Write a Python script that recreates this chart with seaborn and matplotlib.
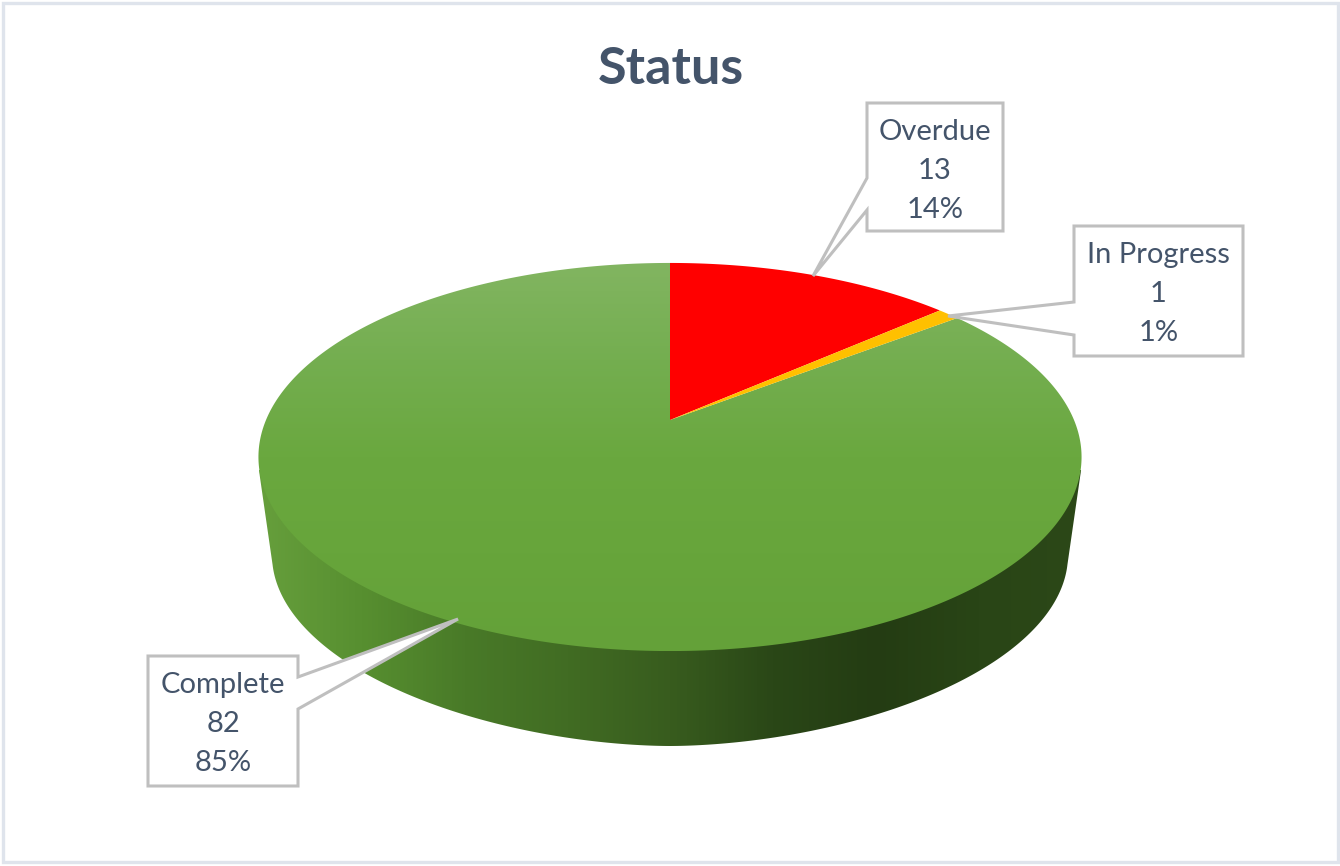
# -*- coding: utf-8 -*-
"""Status pie chart drawn as a 3D disc with callout labels."""

import numpy as np
import matplotlib
matplotlib.use('Agg')
import matplotlib.pyplot as plt
from matplotlib.patches import Polygon, Rectangle
import seaborn as sns

statuses = ['Overdue', 'In Progress', 'Complete']
counts = [13, 1, 82]
slice_colors = ['#ff0000', '#ffc000', '#70ad47']
title = 'Status'

sns.set_theme(style='white')
plt.rcParams['font.family'] = ['Lato', 'DejaVu Sans']

TEXT_COLOR = '#44546a'
BOX_COLOR = '#bfbfbf'

# gradients of the disc
top_cmap = sns.blend_palette(['#82b561', '#74ae50', '#6aa83f', '#67a53b', '#64a139'], as_cmap=True)
side_cmap = sns.blend_palette(['#669f3c', '#578f30', '#497a28', '#416c23', '#385c1e',
                              '#2a4717', '#243c13', '#294516', '#2c4818'], as_cmap=True)

# disc geometry, in pixels
CX, CY = 670, 420
A, B, K = 404, 187, 0.1907
ELL_Y, ELL_RX, ELL_RY = 457, 412, 194
BOT_Y, BOT_RX, BOT_RY = 555, 398, 191


def project(angle):
    """Clockwise angle from the top of the disc to a pixel position on its face."""
    u, v = np.sin(angle), np.cos(angle)
    d = 1 + K * v
    return np.column_stack([CX + A * u / d, CY - B * v / d])


def slice_polygon(start, stop):
    rim = project(np.linspace(start, stop, max(int((stop - start) * 100), 8)))
    return np.vstack([[CX, CY], rim])


def side_polygon():
    # lower rim, closed by a chord that the top face hides
    d_bot = np.arcsin(0.05)
    t = np.linspace(np.pi + d_bot, 2 * np.pi - d_bot, 300)
    c = np.cos(t)
    bottom = np.column_stack([CX + BOT_RX * np.sign(c) * np.abs(c) ** 1.1, BOT_Y - BOT_RY * np.sin(t)])
    half = ELL_RX * np.sqrt(1 - (13 / ELL_RY) ** 2)
    chord = [[CX + half, ELL_Y + 13], [CX - half, ELL_Y + 13]]
    return np.vstack([bottom, chord])


def gradient(ax, cmap, polygon, vertical):
    grad = np.linspace(0, 1, 256)
    grad = grad[:, None] if vertical else grad[None, :]
    x0, y0 = polygon.min(axis=0)
    x1, y1 = polygon.max(axis=0)
    im = ax.imshow(grad, cmap=cmap, extent=[x0, x1, y1, y0], aspect='auto', zorder=2)
    patch = Polygon(polygon, closed=True, transform=ax.transData, fc='none', ec='none')
    ax.add_patch(patch)
    im.set_clip_path(patch)


def callout(ax, box, tip, base_side, base_y, lines):
    x0, y0, x1, y1 = box
    if base_side == 'right':
        pts = [(x0, y0), (x1, y0), (x1, base_y[0]), tip, (x1, base_y[1]), (x1, y1), (x0, y1)]
    else:
        pts = [(x0, y0), (x1, y0), (x1, y1), (x0, y1), (x0, base_y[1]), tip, (x0, base_y[0])]
    ax.add_patch(Polygon(pts, closed=True, fc='white', ec=BOX_COLOR, lw=2.2,
                         joinstyle='miter', zorder=5))
    xc = (x0 + x1) / 2
    for y, line in zip((y0 + 29, y0 + 68, y0 + 107), lines):
        ax.text(xc, y, line, ha='center', va='center', fontsize=21, color=TEXT_COLOR, zorder=6)


fig = plt.figure(figsize=(13.4, 8.66), dpi=100)
ax = fig.add_axes([0, 0, 1, 1])
ax.add_patch(Rectangle((2.5, 2.5), 1335, 859, fc='white', ec='#dfe4ec', lw=2.4, zorder=0))

# slices start at the top of the disc and run clockwise
total = sum(counts)
angles = np.concatenate([[0], np.cumsum(counts) / total * 2 * np.pi])

gradient(ax, side_cmap, side_polygon(), vertical=False)
for i, status in enumerate(statuses):
    poly = slice_polygon(angles[i], angles[i + 1])
    if status == 'Complete':
        gradient(ax, top_cmap, poly, vertical=True)
    else:
        ax.add_patch(Polygon(poly, closed=True, fc=slice_colors[i], ec='none', zorder=3))

boxes = {
    'Overdue': ((867, 103, 1003, 231), (813, 276), 'left', (178, 210)),
    'In Progress': ((1074, 226, 1243, 356), (948, 316), 'left', (302, 335)),
    'Complete': ((148, 656, 298, 786), (458, 619), 'right', (677, 709)),
}
for status, count in zip(statuses, counts):
    box, tip, side, base_y = boxes[status]
    lines = [status, str(count), f'{count / total:.0%}']
    callout(ax, box, tip, side, base_y, lines)

ax.text(671, 70, title, ha='center', va='center', fontsize=37.5, fontweight='bold',
        color=TEXT_COLOR, zorder=6)

ax.set_xlim(0, 1340)
ax.set_ylim(866, 0)
ax.axis('off')
fig.savefig('out.png', dpi=100, facecolor='white')
plt.close(fig)
